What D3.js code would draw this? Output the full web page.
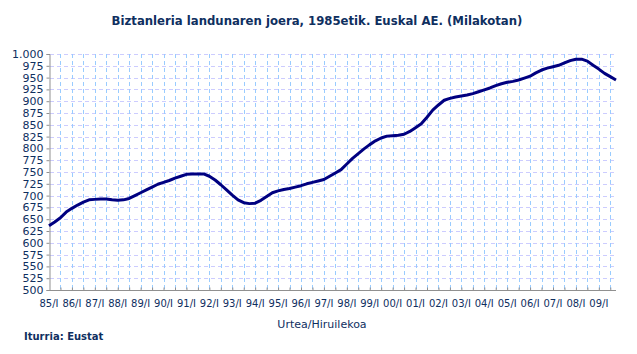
<!DOCTYPE html>
<html lang="eu">
<head>
<meta charset="UTF-8">
<title>Biztanleria landunaren joera</title>
<script src="https://cdn.jsdelivr.net/npm/d3@7"></script>
<style>
  body { margin: 0; background: #fff; }
  text { font-family: "DejaVu Sans", Verdana, sans-serif; fill: #0f2f5f; }
</style>
</head>
<body>
<svg id="svg" width="637" height="354"></svg>
<script>
// employed population, thousands, quarterly 1985/I .. 2009/IV
const years = ["85","86","87","88","89","90","91","92","93","94","95","96","97",
               "98","99","00","01","02","03","04","05","06","07","08","09"]
const employed = [
  636, 644, 653, 665,  673, 680, 686, 691,  692, 693, 693, 691,
  690, 691, 694, 700,  706, 712, 718, 724,  728, 732, 737, 741,
  745, 746, 746, 746,  741, 733, 723, 712,  701, 691, 685, 683,
  684, 690, 698, 706,  710, 713, 715, 718,  721, 725, 728, 731,
  734, 741, 748, 755,  767, 779, 789, 799,  808, 816, 822, 826,
  827, 828, 830, 836,  844, 852, 866, 881,  892, 902, 906, 909,
  911, 913, 916, 920,  924, 928, 933, 937,  940, 942, 945, 949,
  953, 960, 966, 970,  973, 976, 981, 986,  989, 989, 985, 976,
  968, 959, 952, 945
]
const yTicks = d3.range(500, 1001, 25)

const svg = d3.select("#svg")
const plot = {left: 49, right: 616, top: 54, bottom: 290}

const x = d3.scaleLinear().domain([0, employed.length - 1]).range([plot.left, plot.right])
const y = d3.scaleLinear().domain([500, 1000]).range([plot.bottom, plot.top])
const fmt = d => d >= 1000 ? d3.format(",")(d).replace(",", ".") : d

// grid
const halfYears = d3.range(2, employed.length, 2)
svg.append("g").selectAll("line").data(yTicks.slice(1)).join("line")
  .attr("x1", plot.left + 1).attr("x2", plot.right)
  .attr("y1", d => Math.round(y(d)) + 0.5).attr("y2", d => Math.round(y(d)) + 0.5)
  .attr("stroke", "#ccccff").attr("stroke-dasharray", "4,3")
svg.append("g").selectAll("line").data(halfYears).join("line")
  .attr("x1", d => Math.round(x(d)) + 0.5).attr("x2", d => Math.round(x(d)) + 0.5)
  .attr("y1", plot.top).attr("y2", plot.bottom)
  .attr("stroke", "#99ccff").attr("stroke-dasharray", "4,3")

// axes
const yAxis = d3.axisLeft(y).tickValues(yTicks).tickSize(3).tickPadding(3).tickFormat(fmt)
svg.append("g").attr("class", "y_axis")
  .attr("transform", `translate(${plot.left + 0.5},0)`).call(yAxis)
  .call(g => g.selectAll("line, path").attr("stroke", "#909090"))
  .call(g => g.selectAll("text").attr("font-size", 11).attr("fill", "#0f2f5f")
    .attr("font-family", '"DejaVu Sans", Verdana, sans-serif'))

const xAxis = d3.axisTop(x).tickValues(halfYears).tickSize(3).tickFormat("")
svg.append("g").attr("class", "x_axis")
  .attr("transform", `translate(0,${plot.bottom + 0.5})`).call(xAxis)
  .call(g => g.select("path").attr("d", `M${plot.left},0H${plot.right}`))
  .call(g => g.selectAll("line, path").attr("stroke", "#909090"))

svg.append("g").selectAll("text").data(years).join("text")
  .attr("x", (d, i) => x(i * 4)).attr("y", 307)
  .attr("text-anchor", "middle").attr("font-size", 10)
  .text(d => d + "/I")

// line
svg.append("path").datum(employed)
  .attr("fill", "none").attr("stroke", "#000080").attr("stroke-width", 3)
  .attr("stroke-linejoin", "round")
  .attr("d", d3.line().x((d, i) => x(i)).y(d => y(d)))

// texts
svg.append("text").attr("x", 317).attr("y", 25).attr("text-anchor", "middle")
  .attr("font-size", 11.7).attr("font-weight", "bold").text("Biztanleria landunaren joera, 1985etik. Euskal AE. (Milakotan)")
svg.append("text").attr("x", 322).attr("y", 328).attr("text-anchor", "middle")
  .attr("font-size", 11).text("Urtea/Hiruilekoa")
svg.append("text").attr("x", 24).attr("y", 340)
  .attr("font-size", 10).attr("font-weight", "bold").text("Iturria: Eustat")
</script>
</body>
</html>
